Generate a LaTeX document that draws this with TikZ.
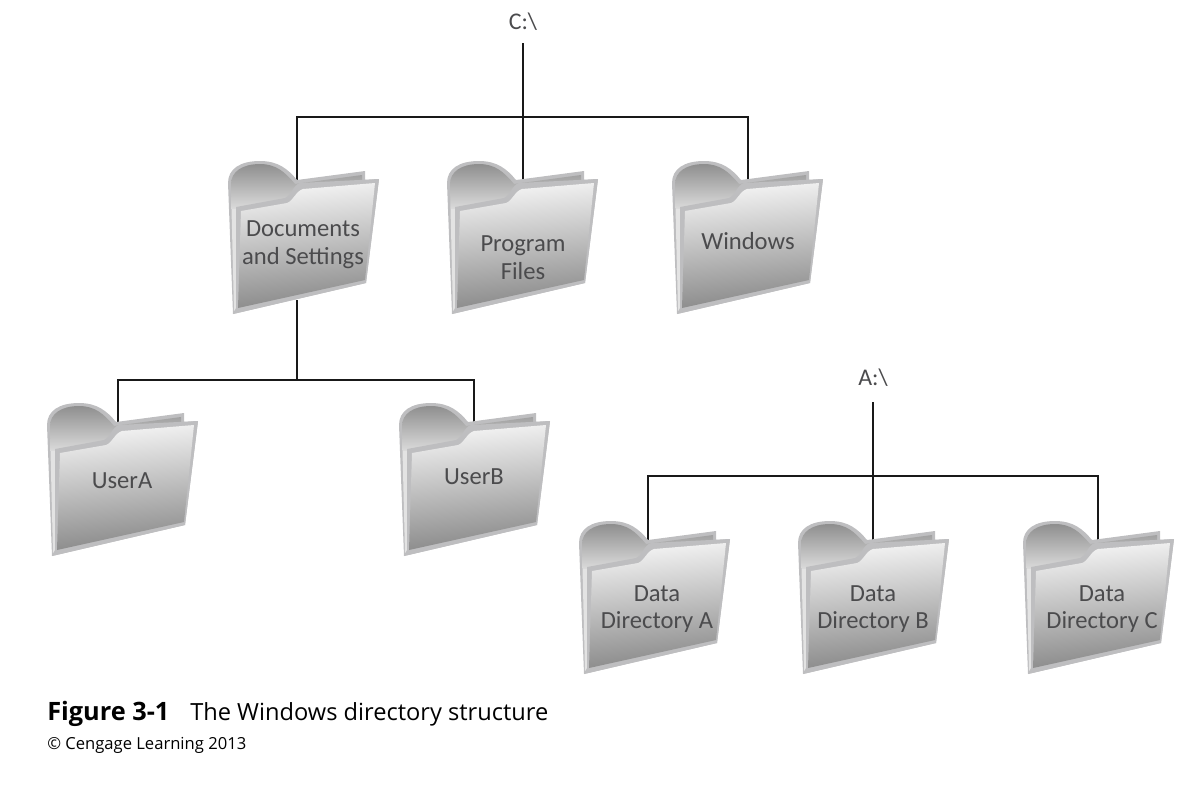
\documentclass[tikz,border=0pt]{standalone}
\usepackage{fontspec}
\setmainfont{Open Sans}
\newfontfamily\labelfont{Carlito}
\usetikzlibrary{backgrounds, positioning}
\definecolor{folderedge}{RGB}{190,190,192}
\definecolor{labeltext}{RGB}{75,75,77}

\begin{document}
\begin{tikzpicture}[
    x=0.025cm, y=-0.025cm,
    wire/.style={draw=black!90, line width=0.75pt},
    folderlabel/.style={font=\labelfont\fontsize{17.5}{19.8}\selectfont, text=labeltext, align=center, inner sep=0pt},
    rootlabel/.style={font=\labelfont\fontsize{17}{20}\selectfont, text=labeltext, inner sep=0pt},
    folderpic/.pic={
        \fill[folderedge] (0,0) .. controls (0,-14) and (12,-22) .. (32,-22)
            .. controls (50,-22) and (60,-14) .. (69,-3) -- (137,-12) -- (137,-3) -- (151,-4)
            -- (138,100) -- (5,131) -- cycle;
        \shade[top color=black!44, bottom color=black!14] (3,1) .. controls (3,-11) and (14,-19) .. (32,-19)
            .. controls (48,-19) and (57,-11) .. (67,1) -- (134,-8) -- (134,0) -- (60,16) -- (8,26) -- (3.5,26) -- cycle;
        \fill[black!11] (3.5,26) -- (8,26) -- (10,125) -- (6,128) -- cycle;
        \fill[folderedge] (8,24) -- (57,15) .. controls (63,13) and (65,2) .. (72,0) -- (151,-4)
            -- (138,100) -- (5,131) -- (8,125) -- cycle;
        \shade[top color=black!4, middle color=black!26, bottom color=black!47, shading angle=6]
            (13,28) -- (59,20) .. controls (65,18) and (68,8) .. (75,6) -- (147,0)
            -- (137,97) -- (10,125) -- cycle;
    }
]
\useasboundingbox (0,0) rectangle (1181,791);

% folders
\pic at (228,183) {folderpic};
\pic at (447,183) {folderpic};
\pic at (672,183) {folderpic};
\pic at (47,425) {folderpic};
\pic at (399,425) {folderpic};
\pic at (579,543) {folderpic};
\pic at (798,543) {folderpic};
\pic at (1023,543) {folderpic};

% names
\node[rootlabel, minimum height=1.05cm] (croot) at (523,22) {C:\textbackslash};
\node[rootlabel, minimum height=1.2cm] (aroot) at (873,378) {A:\textbackslash};
\node[folderlabel] (docs) at (303,245) {Documents\\and Settings};
\node[folderlabel] (prog) at (523,258) {Program\\Files};
\node[folderlabel] (win) at (748,241) {Windows};
\node[folderlabel] (usera) at (122,481) {UserA};
\node[folderlabel] (userb) at (474,476.5) {UserB};
\node[folderlabel] (dataa) at (657,609) {Data\\Directory A};
\node[folderlabel] (datab) at (873,609) {Data\\Directory B};
\node[folderlabel] (datac) at (1102,609) {Data\\Directory C};

% where the lines go in behind the folders
\coordinate (cbus) at (523,117);
\coordinate (ubus) at (297,380);
\coordinate (abus) at (873,476);
\coordinate (docstop) at (297,190);
\coordinate (progtop) at (523,190);
\coordinate (wintop) at (748,190);
\coordinate (docsbot) at (297,300);
\coordinate (useratop) at (118,430);
\coordinate (userbtop) at (474,430);
\coordinate (dataatop) at (648,550);
\coordinate (databtop) at (873,550);
\coordinate (datactop) at (1098,550);

\begin{scope}[on background layer]
\draw[wire] (croot) -- (progtop);
\draw[wire] (docstop) -- (docstop |- cbus) -- (wintop |- cbus) -- (wintop);
\draw[wire] (docsbot) -- (ubus);
\draw[wire] (useratop) -- (useratop |- ubus) -- (userbtop |- ubus) -- (userbtop);
\draw[wire] (aroot) -- (databtop);
\draw[wire] (dataatop) -- (dataatop |- abus) -- (datactop |- abus) -- (datactop);
\end{scope}

% caption
\node[anchor=base west, inner sep=0pt, font=\bfseries\fontsize{18}{20}\selectfont] (figno) at (47,720) {Figure 3-1};
\node[anchor=base west, inner sep=0pt, font=\fontsize{16.8}{20}\selectfont] (figtitle) at (190,720) {The Windows directory structure};
\node[anchor=base west, inner sep=0pt, font=\fontsize{11.8}{14}\selectfont] (figcredit) at (47,749) {© Cengage Learning 2013};
\end{tikzpicture}
\end{document}
